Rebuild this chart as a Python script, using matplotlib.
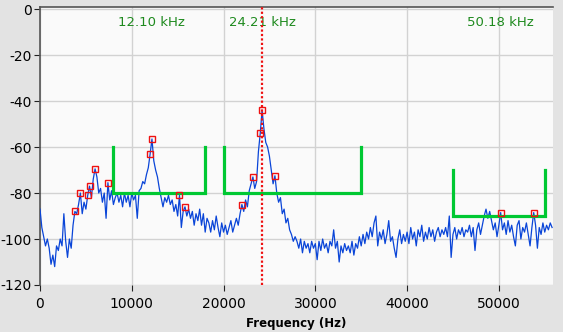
import numpy as np
import matplotlib
matplotlib.use("Agg")
import matplotlib.pyplot as plt

plt.rcParams["axes.unicode_minus"] = False

# === Daten ===
bin_step = 200  # Hz pro Punkt
spectrum_db = [
    -87, -95, -99, -103, -100, -104, -111, -107, -112, -103,
    -105, -100, -103, -89, -101, -108, -100, -104, -94, -88,
    -89, -85, -80, -89, -84, -87, -81, -77, -82, -74,
    -69.5, -73, -80, -78, -84, -80, -91, -75.5, -83, -79,
    -85, -82, -80, -84, -81, -86, -80, -84, -81, -86,
    -80, -83, -81, -91, -79, -78, -75, -76, -72, -69,
    -63, -56.5, -66, -70, -73, -78, -82, -86, -82, -84,
    -81, -85, -83, -88, -85, -90, -81, -95, -88, -86,
    -90, -87, -91, -88, -94, -89, -92, -87, -94, -89,
    -97, -91, -93, -97, -92, -96, -90, -95, -99, -93,
    -97, -94, -98, -95, -92, -97, -94, -91, -94, -89,
    -85, -88, -83, -86, -79, -76, -73, -78, -75, -62,
    -54, -44, -52, -58, -60, -64, -70, -76, -72.5, -80,
    -84, -82, -89, -87, -93, -91, -96, -98, -101, -99,
    -101, -104, -100, -106, -101, -104, -102, -106, -101, -104,
    -102, -109, -101, -105, -100, -104, -102, -106, -101, -103,
    -96, -104, -101, -110, -103, -106, -102, -105, -103, -106,
    -101, -107, -102, -104, -99, -103, -98, -102, -97, -100,
    -95, -99, -93, -90, -103, -97, -100, -96, -102, -98,
    -92, -101, -99, -104, -108, -100, -96, -102, -98, -101,
    -97, -102, -95, -100, -97, -103, -96, -99, -94, -101,
    -97, -100, -95, -99, -96, -101, -97, -95, -99, -96,
    -98, -95, -99, -90, -108, -98, -95, -100, -96, -98,
    -95, -99, -96, -97, -94, -99, -95, -105, -96, -93,
    -98, -94, -90, -87, -91, -88, -92, -96, -93, -99,
    -94, -88.5, -96, -93, -98, -92, -97, -94, -99, -103,
    -94, -92, -100, -95, -97, -93, -98, -103, -95, -88.5,
    -94, -104, -95, -98, -93, -97, -94, -96, -93, -95,
]
peak_freqs = [3800, 4400, 5200, 5400, 6000, 7400, 12000, 12200, 15200, 15800,
              22000, 23200, 24000, 24200, 25600, 50200, 53800]

# Bandgrenzen (Start, Ende, oben, unten)
band_start = [8000, 20000, 45000]
band_end = [18000, 35000, 55000]
band_top = [-60, -60, -70]
band_bottom = [-80, -80, -90]

center_freq = 24210
label_freqs = [12100, 24210, 50180]
label_texts = ["12.10 kHz", "24.21 kHz", "50.18 kHz"]

freq = np.arange(len(spectrum_db)) * bin_step
spectrum_db = np.array(spectrum_db)
peak_idx = np.array(peak_freqs) // bin_step

# === Plot ===
fig = plt.figure(figsize=(5.63, 3.32), dpi=100, facecolor="#e3e3e3")
ax = fig.add_axes([40 / 563, 1 - 285 / 332, 513 / 563, 278 / 332])
ax.set_facecolor("#fafafa")

ax.plot(freq, spectrum_db, color="#0a45d8", lw=0.9, zorder=3)
ax.plot(freq[peak_idx], spectrum_db[peak_idx], ls="none", marker="s", ms=4.5,
        mfc="none", mec="#ee1111", mew=1, zorder=5)

for x0, x1, top, bot in zip(band_start, band_end, band_top, band_bottom):
    ax.plot([x0, x0, x1, x1], [top, bot, bot, top], color="#00c832", lw=2.3,
            zorder=4, solid_joinstyle="miter")

ax.axvline(center_freq, color="#ee1111", ls=(0, (1, 1)), lw=1.6, zorder=6)

for f, t in zip(label_freqs, label_texts):
    ax.text(f, -5.8, t, color="#1e8a1e", fontsize=9.5, ha="center", va="center")

ax.set_xlim(0, 55900)
ax.set_ylim(-120, 0.9)
ax.set_xticks(range(0, 60000, 10000))
ax.set_yticks(range(-120, 1, 20))
ax.grid(True, color="#d2d2d2", lw=1)
ax.set_axisbelow(True)

for s in ["right", "bottom"]:
    ax.spines[s].set_visible(False)
for s in ["left", "top"]:
    ax.spines[s].set_color("#555555")
    ax.spines[s].set_linewidth(1.2)

ax.tick_params(axis="both", labelsize=10, length=4, color="#222222")
ax.tick_params(axis="y", pad=2)
ax.tick_params(axis="x", pad=5)
ax.set_xlabel("Frequency (Hz)", fontsize=8.5, fontweight="bold", labelpad=4)

fig.savefig("out.png", dpi=100, facecolor=fig.get_facecolor())
